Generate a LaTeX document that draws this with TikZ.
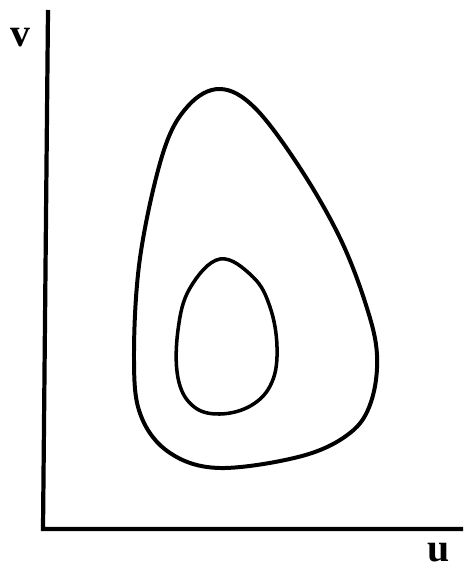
\documentclass[tikz,border=0pt]{standalone}
\usepackage{fontspec}
\setmainfont{Liberation Serif}
\usepackage{tikz}
\tikzset{
  axisline/.style={line width=3.6pt,draw=black},
  orbit/.style={line width=3.4pt,draw=black},
  innerorbit/.style={line width=3pt,draw=black},
  axislabel/.style={font=\bfseries\fontsize{34}{34}\selectfont,inner sep=0pt}
}

\begin{document}
\begin{tikzpicture}[x=0.03cm,y=-0.03cm]
  \useasboundingbox (0,0) rectangle (463,571);
  \coordinate (origin) at (43,529);
  \coordinate (vtop) at (48,10);
  \coordinate (uend) at (463,529);
  \node[axislabel] (vlabel) at (20,38) {v};
  \node[axislabel] (ulabel) at (439,553) {u};

  \draw[axisline] (vtop) -- (origin) -- (uend);

  % outer closed orbit
  \draw[orbit] plot[smooth cycle,tension=0.6] coordinates {
    (220,89) (255,108) (300,168) (340,238) (366,305) (377,355)
    (371,402) (350,433) (302,456) (220,468) (170,453) (141,416) (134,360)
    (140,258) (163,153) (188,106)};
  % inner closed orbit
  \draw[innerorbit] plot[smooth cycle,tension=0.65] coordinates {
    (220,259) (253,277) (270,307) (277,347) (272,382) (252,405)
    (220,414) (193,406) (178,378) (178,330) (190,288)};
\end{tikzpicture}
\end{document}
